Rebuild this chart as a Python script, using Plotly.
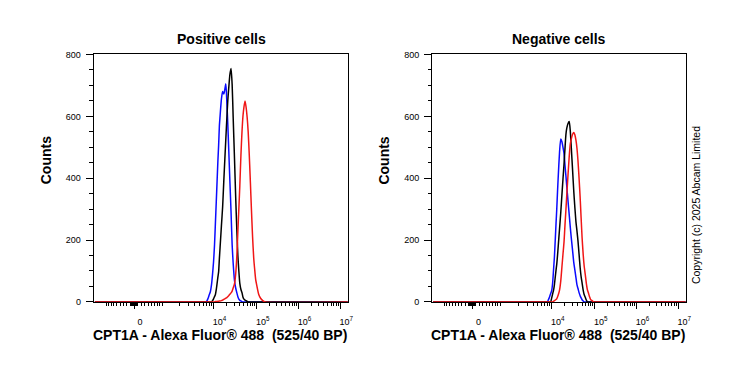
import numpy as np
import plotly.graph_objects as go

# ---------------- data ----------------
# histogram bin centres (fluorescence intensity, CPT1A - Alexa Fluor 488)
bins = [-1500, 4000, 5000, 6000, 6500, 7000, 7500, 8000, 8500, 9000, 9500,
        10000, 10500, 11000, 11500, 12000, 12500, 13000, 13500, 14000,
        15000, 16000, 17000, 18000, 19000, 20000, 21000, 22000, 23500, 25000,
        26500, 28000, 30000, 32000, 34000, 36000, 38000, 40000, 42500, 45000,
        47500, 50000, 53000, 56000, 59500, 63000, 67000, 71000, 75000, 80000,
        85000, 90000, 95000, 100000, 112000, 125000, 140000, 160000, 15000000]

# Positive cells
pos_blue = [0, 0, 0, 0, 0, 1, 10, 22, 33, 55, 90,
            130, 183, 255, 324, 391, 455, 507, 569, 600,
            655, 680, 672, 688, 705, 645, 577, 500, 390, 290,
            185, 125, 70, 45, 30, 17, 9, 5, 3, 1,
            0, 0, 0, 0, 0, 0, 0, 0, 0, 0,
            0, 0, 0, 0, 0, 0, 0, 0, 0]
pos_black = [0, 0, 0, 0, 0, 0, 0, 0, 0, 0, 4,
             10, 17, 24, 40, 60, 80, 98, 140, 175,
             245, 307, 389, 463, 531, 594, 650, 688, 735, 755,
             703, 596, 467, 340, 236, 150, 99, 60, 40, 30,
             15, 9, 6, 4, 2, 0, 0, 0, 0, 0,
             0, 0, 0, 0, 0, 0, 0, 0, 0]
pos_red = [0, 0, 0, 0, 0, 0, 0, 0, 0, 0, 0,
           0, 0, 1, 1, 1, 2, 2, 3, 3,
           4, 6, 8, 10, 12, 14, 17, 20, 25, 29,
           35, 45, 58, 90, 145, 228, 302, 375, 475, 550,
           602, 630, 650, 631, 597, 549, 471, 386, 301, 210,
           143, 103, 71, 55, 24, 11, 4, 0, 0]

# Negative cells
neg_blue = [0, 0, 0, 0, 0, 0, 0, 0, 8, 17, 27,
            37, 62, 105, 146, 200, 254, 302, 356, 404,
            484, 527, 518, 500, 480, 442, 408, 373, 326, 283,
            242, 206, 166, 127, 102, 78, 55, 44, 30, 20,
            13, 7, 3, 0, 0, 0, 0, 0, 0, 0,
            0, 0, 0, 0, 0, 0, 0, 0, 0]
neg_black = [0, 0, 0, 0, 0, 0, 0, 0, 0, 0, 0,
             13, 26, 38, 56, 80, 103, 123, 150, 180,
             236, 289, 346, 398, 446, 496, 541, 562, 577, 583,
             553, 498, 426, 357, 303, 258, 229, 199, 155, 112,
             82, 62, 39, 24, 15, 6, 0, 0, 0, 0,
             0, 0, 0, 0, 0, 0, 0, 0, 0]
neg_red = [0, 0, 0, 0, 0, 0, 0, 0, 0, 0, 0,
           0, 0, 2, 4, 6, 8, 10, 16, 22,
           38, 68, 113, 155, 194, 249, 297, 346, 411, 469,
           510, 527, 542, 548, 540, 522, 496, 459, 401, 340,
           272, 210, 156, 117, 89, 61, 39, 28, 17, 7,
           5, 2, 0, 0, 0, 0, 0, 0, 0]

panel_titles = ["Positive cells", "Negative cells"]
x_title = "CPT1A - Alexa Fluor\u00ae 488\u00a0\u00a0(525/40 BP)"
y_title = "Counts"
copyright_text = "Copyright (c) 2025 Abcam Limited"

x_labeled = [0, 1e4, 1e5, 1e6, 1e7]
x_labeled_text = ["0", "10<sup>4</sup>", "10<sup>5</sup>", "10<sup>6</sup>", "10<sup>7</sup>"]
x_unlabeled_major = [-1000, 1000]
x_limits = [-1580, 1.56e7]
y_major = [0, 200, 400, 600, 800]

# ---------------- logicle-like (biexponential) scale ----------------
A_SCALE = 114.0
P_SCALE = 3.4


def _biex(xd):
    xd = np.asarray(xd, float)
    ax = np.abs(xd)
    v = A_SCALE * (10 ** ax - P_SCALE ** 2 * 10 ** (-ax / P_SCALE) + P_SCALE ** 2 - 1)
    return np.sign(xd) * v


_grid = np.linspace(-2.5, 6.5, 60001)
_vals = _biex(_grid)


def logicle(v):
    return np.interp(np.asarray(v, float), _vals, _grid)


minor_vals = []
for m in range(1, 10):
    minor_vals += [-100 * m, -10 * m, 10 * m, 100 * m]
for dec in [1e3, 1e4, 1e5, 1e6]:
    minor_vals += [dec * m for m in range(2, 10)]
minor_vals = sorted(minor_vals)

FONT = "Liberation Sans, Arial, sans-serif"
BLUE = "#0a0aff"
BLACK = "#000000"
RED = "#f01616"

# page offset (browser body margin) compensation
OFF = 8
W, H = 739 - 2 * OFF, 370 - 2 * OFF


def px_x(px):
    return (px - OFF) / W


def px_y(py):
    return 1 - (py - OFF) / H


x_domains = [[px_x(94.3), px_x(350.7)], [px_x(435.0), px_x(691.0)]]
y_domain = [px_y(305.3), px_y(50.7)]

fig = go.Figure()
xb = logicle(bins)
series = [
    [(pos_blue, BLUE), (pos_black, BLACK), (pos_red, RED)],
    [(neg_blue, BLUE), (neg_black, BLACK), (neg_red, RED)],
]
for i, panel in enumerate(series):
    for ys, col in panel:
        fig.add_trace(go.Scatter(
            x=xb, y=ys, mode="lines",
            line=dict(color=col, width=1.5, shape="spline", smoothing=0.6),
            xaxis="x" if i == 0 else "x2",
            yaxis="y" if i == 0 else "y2",
            showlegend=False, hoverinfo="skip"))

x_range = list(logicle(x_limits))
xaxis_common = dict(
    range=x_range,
    tickmode="array", tickvals=list(logicle(x_labeled)), ticktext=x_labeled_text,
    ticks="outside", ticklen=6, tickwidth=1, tickcolor="black",
    minor=dict(tickmode="array", tickvals=list(logicle(minor_vals)),
               ticks="outside", ticklen=3, tickwidth=1, tickcolor="black", showgrid=False),
    showline=True, linecolor="black", linewidth=1, mirror=True,
    showgrid=False, zeroline=False,
    tickfont=dict(family=FONT, size=9, color="black"),
    ticklabelshift=6, ticklabelstandoff=5,
)
x_extra_major = dict(
    range=x_range, tickmode="array", tickvals=list(logicle(x_unlabeled_major)),
    ticks="outside", ticklen=6, tickwidth=1, tickcolor="black",
    showticklabels=False, showline=False, showgrid=False, zeroline=False,
)
yaxis_common = dict(
    range=[0, 800], domain=y_domain,
    tickmode="array", tickvals=y_major,
    ticks="outside", ticklen=7, tickwidth=1, tickcolor="black",
    minor=dict(tickmode="linear", tick0=0, dtick=50, ticks="outside",
               ticklen=3.5, tickwidth=1, tickcolor="black", showgrid=False),
    showline=True, linecolor="black", linewidth=1, mirror=True,
    showgrid=False, zeroline=False,
    tickfont=dict(family=FONT, size=9, color="black"),
    ticklabelstandoff=3,
)

fig.update_layout(
    width=W, height=H,
    margin=dict(l=0, r=0, t=0, b=0),
    paper_bgcolor="white", plot_bgcolor="white",
    xaxis=dict(domain=x_domains[0], anchor="y", **xaxis_common),
    yaxis=dict(anchor="x", **yaxis_common),
    xaxis2=dict(domain=x_domains[1], anchor="y2", **xaxis_common),
    yaxis2=dict(anchor="x2", **yaxis_common),
    xaxis3=dict(domain=x_domains[0], anchor="y", overlaying="x", **x_extra_major),
    xaxis4=dict(domain=x_domains[1], anchor="y2", overlaying="x2", **x_extra_major),
    font=dict(family=FONT, color="black"),
)

annotations = []
for i, dom in enumerate(x_domains):
    cx = (dom[0] + dom[1]) / 2
    annotations.append(dict(text="<b>%s</b>" % panel_titles[i], x=cx, y=px_y(35),
                            xref="paper", yref="paper", showarrow=False,
                            xanchor="center", yanchor="middle",
                            font=dict(family=FONT, size=14, color="black")))
    annotations.append(dict(text="<b>%s</b>" % x_title, x=cx - 1.5 / W, y=px_y(339.5),
                            xref="paper", yref="paper", showarrow=False,
                            xanchor="center", yanchor="middle",
                            font=dict(family=FONT, size=14, color="black")))
    annotations.append(dict(text="<b>%s</b>" % y_title, x=dom[0] - 48.5 / W, y=px_y(160),
                            xref="paper", yref="paper", showarrow=False, textangle=-90,
                            xanchor="center", yanchor="middle",
                            font=dict(family=FONT, size=14, color="black")))
annotations.append(dict(text=copyright_text, x=px_x(700.7), y=px_y(205.8),
                        xref="paper", yref="paper", showarrow=False, textangle=-90,
                        xanchor="center", yanchor="middle",
                        font=dict(family=FONT, size=10.5, color="black")))
fig.update_layout(annotations=annotations)

fig.write_html("out.html")
